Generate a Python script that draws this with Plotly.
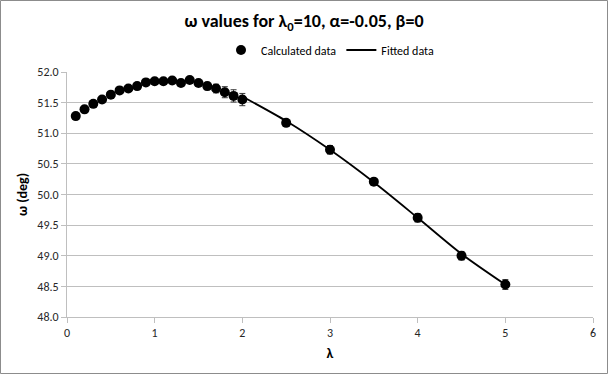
import plotly.graph_objects as go

lam = [0.1, 0.2, 0.3, 0.4, 0.5, 0.6, 0.7, 0.8, 0.9, 1.0,
       1.1, 1.2, 1.3, 1.4, 1.5, 1.6, 1.7, 1.8, 1.9, 2.0,
       2.5, 3.0, 3.5, 4.0, 4.5, 5.0]
omega = [51.28, 51.39, 51.48, 51.55, 51.63, 51.70, 51.73, 51.77, 51.83, 51.85,
         51.85, 51.86, 51.82, 51.87, 51.82, 51.77, 51.73, 51.67, 51.61, 51.55,
         51.17, 50.73, 50.21, 49.62, 49.00, 48.53]
omega_err = [0.02, 0.02, 0.02, 0.02, 0.02, 0.02, 0.02, 0.02, 0.02, 0.03,
             0.03, 0.03, 0.03, 0.03, 0.04, 0.06, 0.07, 0.09, 0.10, 0.10,
             0.05, 0.07, 0.05, 0.07, 0.07, 0.08]

fit_lam = [2.0, 2.5, 3.0, 3.5, 4.0, 4.5, 5.0]
fit_omega = [51.60, 51.20, 50.73, 50.20, 49.62, 49.03, 48.53]

W, H = 608, 374
ml, mr, mt, mb = 67, 15, 72, 57
pw, ph = W - ml - mr, H - mt - mb

font_family = "Carlito, Calibri, Lato, 'Open Sans', sans-serif"

fig = go.Figure()
fig.add_trace(go.Scatter(
    x=lam, y=omega, mode="markers", name="Calculated data",
    marker=dict(color="black", size=10),
    error_y=dict(type="data", array=omega_err, color="#333333", thickness=1, width=3),
))
fig.add_trace(go.Scatter(
    x=fit_lam, y=fit_omega, mode="lines", name="Fitted data",
    line=dict(color="black", width=1.8, shape="spline", smoothing=0.8),
))

fig.update_layout(
    width=W, height=H,
    margin=dict(l=ml, r=mr, t=mt, b=mb),
    paper_bgcolor="white", plot_bgcolor="white",
    font=dict(family=font_family, size=12, color="#262626"),
    title=dict(text="<b>ω values for λ<sub>0</sub>=10, α=-0.05, β=0</b>",
               x=0.5, xanchor="center", y=1 - 21 / H, yanchor="middle",
               font=dict(size=18, color="black")),
    legend=dict(orientation="h", x=0.5, xanchor="center", y=1 + (mt - 50) / ph, yanchor="middle",
                font=dict(size=12, color="black"), bgcolor="rgba(0,0,0,0)",
                itemwidth=30, traceorder="normal"),
    showlegend=True,
    xaxis=dict(range=[0, 6], dtick=1, showgrid=False, zeroline=False,
               showline=True, linecolor="#bfbfbf", linewidth=1,
               ticks="outside", ticklen=5, tickcolor="#bfbfbf",
               tickfont=dict(size=12, color="#262626"),
               title=dict(text="<b>λ</b>", font=dict(size=14, color="black"), standoff=8)),
    yaxis=dict(range=[48, 52], dtick=0.5, tickformat=".1f",
               showgrid=True, gridcolor="#bfbfbf", gridwidth=1, zeroline=False,
               showline=True, linecolor="#bfbfbf", linewidth=1,
               ticks="outside", ticklen=5, tickcolor="#bfbfbf",
               tickfont=dict(size=12, color="#262626"),
               title=dict(text="<b>ω (deg)</b>", font=dict(size=14, color="black"), standoff=6)),
    shapes=[dict(type="rect", xref="paper", yref="paper",
                 x0=-(ml - 0.5) / pw, x1=1 + (mr - 0.5) / pw,
                 y0=-(mb - 0.5) / ph, y1=1 + (mt - 0.5) / ph,
                 line=dict(color="#8c8c8c", width=1), fillcolor="rgba(0,0,0,0)", layer="below")],
)

fig.write_html("out.html", config={"displayModeBar": False})

with open("out.html", "r", encoding="utf-8") as f:
    html = f.read()
html = html.replace("<head>", "<head><style>html,body{margin:0;padding:0;overflow:hidden;}</style>", 1)
with open("out.html", "w", encoding="utf-8") as f:
    f.write(html)
